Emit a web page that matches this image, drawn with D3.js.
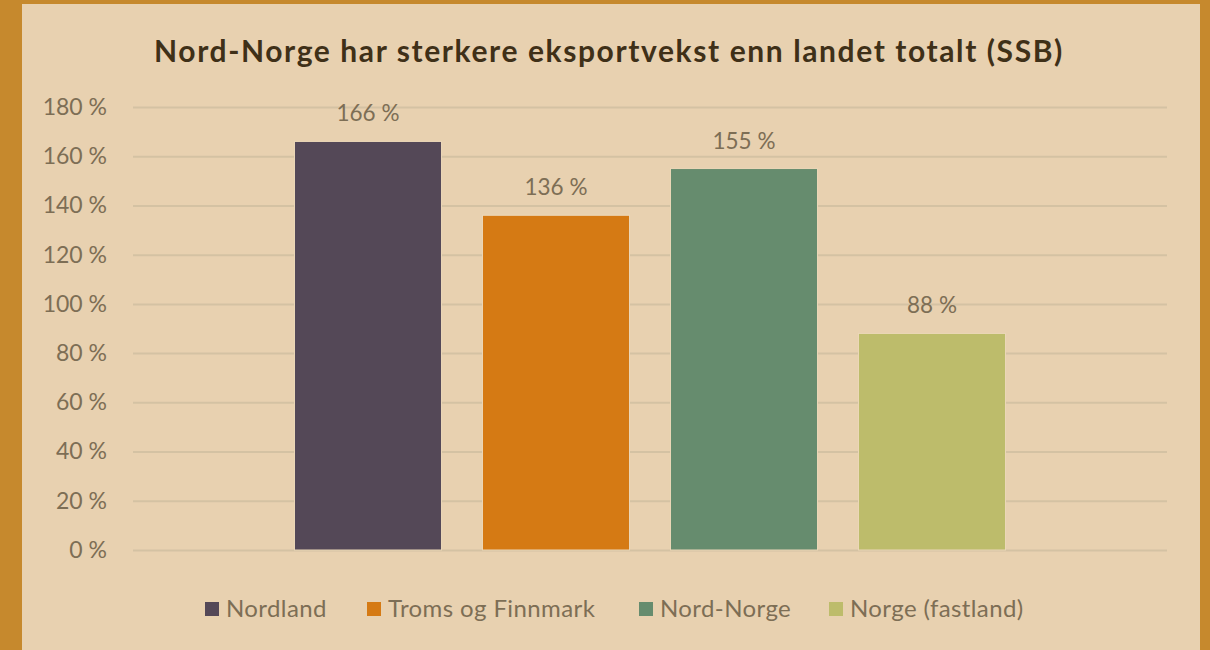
<!DOCTYPE html>
<html>
<head>
<meta charset="utf-8">
<script src="https://cdn.jsdelivr.net/npm/d3@7"></script>
<style>
  html, body { margin: 0; padding: 0; background: #C6892D; }
  svg { display: block; }
</style>
</head>
<body>
<svg id="chart"></svg>
<script>
// chart data
const seriesNames = ["Nordland", "Troms og Finnmark", "Nord-Norge", "Norge (fastland)"];
const seriesValues = [166, 136, 155, 88];
const seriesColors = ["#544857", "#D57A14", "#668C6E", "#BDBC6B"];
const yTicks = [0, 20, 40, 60, 80, 100, 120, 140, 160, 180];
const titleText = "Nord-Norge har sterkere eksportvekst enn landet totalt (SSB)";

const width = 1210;
const height = 650;
const marginTop = 107;
const marginBottom = 100;
const marginLeft = 133;
const marginRight = 43;

const svg = d3.select("#chart")
    .attr("width", width)
    .attr("height", height)
    .attr("viewBox", `0 0 ${width} ${height}`)
    .style("font-family", "Lato, 'Open Sans', sans-serif");

// frame + inner panel
svg.append("rect")
    .attr("width", width).attr("height", height)
    .attr("fill", "#C6892D");
svg.append("rect")
    .attr("x", 22).attr("y", 4)
    .attr("width", 1178).attr("height", height - 4)
    .attr("fill", "#E8D1B0");

const x = d3.scaleBand()
    .domain(seriesNames)
    .range([marginLeft, width - marginRight])
    .paddingInner(0.218)
    .paddingOuter(0.859);

const y = d3.scaleLinear()
    .domain([0, 180])
    .range([height - marginBottom, marginTop]);

// gridlines + y labels
svg.append("g")
    .attr("transform", `translate(${marginLeft},0)`)
    .call(d3.axisLeft(y).tickValues(yTicks).tickSize(0).tickPadding(26)
        .tickFormat(d => d + " %"))
    .call(g => g.select(".domain").remove())
    .call(g => g.selectAll(".tick text")
        .attr("fill", "#7D6E55")
        .attr("font-family", "Lato, sans-serif")
        .attr("font-size", 23))
    .call(g => g.selectAll(".tick line").clone()
        .attr("x2", width - marginLeft - marginRight)
        .attr("stroke", "#D4C2A3")
        .attr("stroke-width", 2));

// bars
svg.append("g")
    .selectAll("rect")
    .data(seriesNames)
    .join("rect")
    .attr("x", d => x(d))
    .attr("y", (d, i) => y(seriesValues[i]))
    .attr("width", x.bandwidth())
    .attr("height", (d, i) => y(0) - y(seriesValues[i]))
    .attr("fill", (d, i) => seriesColors[i])
    .attr("stroke", "#EBD7B8")
    .attr("stroke-width", 1);

// value labels
svg.append("g")
    .selectAll("text")
    .data(seriesNames)
    .join("text")
    .attr("x", d => x(d) + x.bandwidth() / 2)
    .attr("y", (d, i) => y(seriesValues[i]) - 20)
    .attr("text-anchor", "middle")
    .attr("fill", "#7D6E55")
    .attr("font-size", 22.5)
    .text((d, i) => seriesValues[i] + " %");

// title
svg.append("text")
    .attr("x", 609)
    .attr("y", 62)
    .attr("text-anchor", "middle")
    .attr("fill", "#3F3018")
    .attr("font-size", 30)
    .attr("font-weight", "bold")
    .attr("letter-spacing", 1.6)
    .text(titleText);

// legend
const legendX = [205, 367, 639, 829];
const legend = svg.append("g")
    .selectAll("g")
    .data(seriesNames)
    .join("g")
    .attr("transform", (d, i) => `translate(${legendX[i]},617)`);

legend.append("rect")
    .attr("y", -15)
    .attr("width", 14).attr("height", 14)
    .attr("fill", (d, i) => seriesColors[i]);

legend.append("text")
    .attr("x", 21)
    .attr("fill", "#7D6E55")
    .attr("font-size", 24)
    .attr("letter-spacing", 0.4)
    .text(d => d);
</script>
</body>
</html>
